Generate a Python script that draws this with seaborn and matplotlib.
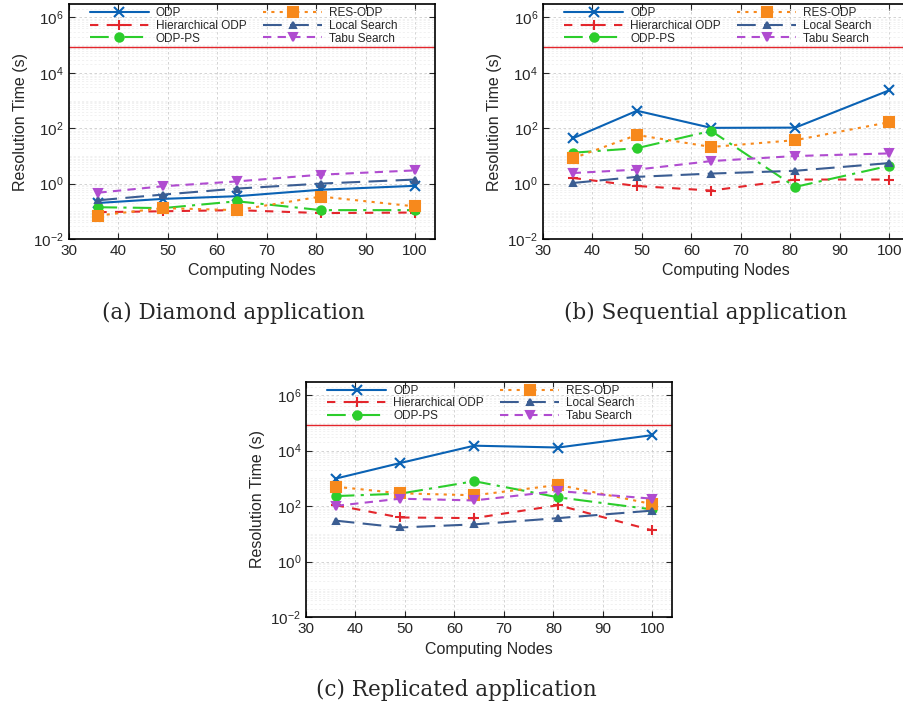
import math
import matplotlib
matplotlib.use("Agg")
import matplotlib.pyplot as plt
import matplotlib.ticker as mticker
import seaborn as sns

# x values: number of computing nodes
nodes = [36, 49, 64, 81, 100]
methods = ["ODP", "Hierarchical ODP", "ODP-PS", "RES-ODP", "Local Search", "Tabu Search"]
time_limit = 86400  # red line (one day)

# resolution times (s)
diamond = {
    "ODP": [0.2, 0.28, 0.35, 0.6, 0.83],
    "Hierarchical ODP": [0.093, 0.1, 0.11, 0.086, 0.09],
    "ODP-PS": [0.14, 0.13, 0.23, 0.11, 0.11],
    "RES-ODP": [0.07, 0.13, 0.11, 0.34, 0.15],
    "Local Search": [0.25, 0.4, 0.66, 1.0, 1.4],
    "Tabu Search": [0.47, 0.8, 1.2, 2.1, 3.0],
}
sequential = {
    "ODP": [43, 427, 103, 105, 2340],
    "Hierarchical ODP": [1.6, 0.82, 0.56, 1.4, 1.4],
    "ODP-PS": [13, 19, 80, 0.76, 4.4],
    "RES-ODP": [8.1, 57, 21, 37, 165],
    "Local Search": [1.05, 1.75, 2.3, 2.9, 5.5],
    "Tabu Search": [2.4, 3.2, 6.5, 9.9, 12.3],
}
replicated = {
    "ODP": [980, 3550, 15000, 12900, 36000],
    "Hierarchical ODP": [108, 39, 37, 108, 13.4],
    "ODP-PS": [230, 280, 790, 207, 76],
    "RES-ODP": [500, 290, 245, 580, 118],
    "Local Search": [30, 17, 22, 37, 69],
    "Tabu Search": [102, 185, 160, 350, 185],
}
captions = ["(a) Diamond application", "(b) Sequential application", "(c) Replicated application"]

colors = {"ODP": "#0a62b4", "Hierarchical ODP": "#e3262c", "ODP-PS": "#2ccd2c",
          "RES-ODP": "#f7891c", "Local Search": "#3b5d92", "Tabu Search": "#b04cd0"}
markers = {"ODP": "x", "Hierarchical ODP": "+", "ODP-PS": "o",
           "RES-ODP": "s", "Local Search": "^", "Tabu Search": "v"}
msizes = {"ODP": 7, "Hierarchical ODP": 7.5, "ODP-PS": 6,
          "RES-ODP": 6.5, "Local Search": 5, "Tabu Search": 5.5}
styles = {"ODP": "-", "Hierarchical ODP": (0, (4, 4)), "ODP-PS": (0, (9, 3, 1.5, 3)),
          "RES-ODP": (0, (1.5, 2.5)), "Local Search": (0, (9, 4)), "Tabu Search": (0, (4, 3))}

sns.set_style("ticks")
plt.rcParams["font.family"] = ["Liberation Sans", "DejaVu Sans"]
plt.rcParams["mathtext.default"] = "regular"

fig = plt.figure(figsize=(9.04, 7.07), dpi=100)
positions = [[0.076, 0.662, 0.405, 0.332],
             [0.6006, 0.662, 0.405, 0.332],
             [0.3385, 0.127, 0.405, 0.333]]
caption_pos = [(0.258, 0.558), (0.781, 0.558), (0.505, 0.024)]

for data, pos, cap, cpos in zip([diamond, sequential, replicated], positions, captions, caption_pos):
    ax = fig.add_axes(pos)
    for m in methods:
        sns.lineplot(x=nodes, y=data[m], ax=ax, color=colors[m], marker=markers[m],
                     markersize=msizes[m], markeredgecolor="auto", markeredgewidth=1.5,
                     linestyle=styles[m], linewidth=1.5, label=m)
    ax.axhline(time_limit, color="#e3262c", lw=1)
    ax.set_yscale("log")
    ax.set_ylim(1e-2, 3e6)
    ax.set_xlim(30, 104)
    ax.set_xticks(range(30, 101, 10))
    ax.yaxis.set_major_locator(mticker.FixedLocator([1e-2, 1e0, 1e2, 1e4, 1e6]))
    ax.yaxis.set_major_formatter(mticker.FuncFormatter(lambda v, p: r"$10^{%d}$" % round(math.log10(v))))
    ax.yaxis.set_minor_locator(mticker.LogLocator(base=10, subs=range(1, 10), numticks=50))
    ax.yaxis.set_minor_formatter(mticker.NullFormatter())
    ax.grid(True, which="major", color="#cccccc", ls=(0, (3, 3)), lw=0.6)
    ax.grid(True, which="minor", axis="y", color="#ebebeb", ls=(0, (3, 3)), lw=0.5)
    ax.tick_params(direction="in", top=True, right=True, labelsize=11, length=4)
    ax.tick_params(which="minor", length=0)
    for s in ax.spines.values():
        s.set_linewidth(1.2)
        s.set_color("black")
    ax.set_xlabel("Computing Nodes", fontsize=11.5)
    ax.set_ylabel("Resolution Time (s)", fontsize=11.5)
    ax.legend(ncol=2, loc="upper left", bbox_to_anchor=(0.035, 1.022), frameon=False,
              fontsize=8.5, handlelength=5.0, handletextpad=0.6, columnspacing=1.4,
              labelspacing=0.05, borderpad=0.2, numpoints=1)
    fig.text(cpos[0], cpos[1], cap, ha="center", va="center", fontsize=15.5,
             family="DejaVu Serif")

fig.savefig("out.png", dpi=100)
